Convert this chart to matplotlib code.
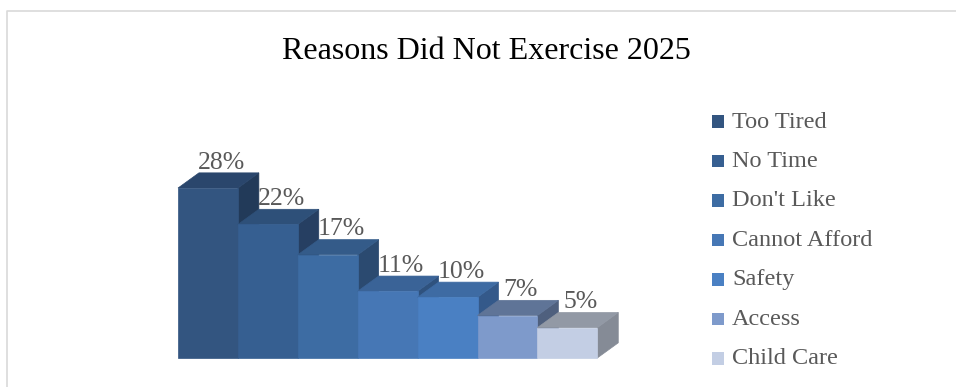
"""3D-style stepped bar chart of reasons for not exercising."""

import matplotlib

matplotlib.use("Agg")
from matplotlib import pyplot
from matplotlib.patches import Polygon, Rectangle

reasons = ["Too Tired", "No Time", "Don't Like", "Cannot Afford", "Safety", "Access", "Child Care"]
percents = [28, 22, 17, 11, 10, 7, 5]

front_colors = ["#335580", "#365F91", "#3D6CA3", "#4677B5", "#4A80C3", "#7E9ACB", "#C3CEE4"]
top_colors = ["#2A466C", "#2E5079", "#345B89", "#3A6397", "#3E6BA3", "#5F7497", "#9299A5"]
side_colors = ["#223A59", "#263F62", "#2B4A70", "#2F527E", "#34598A", "#4F607E", "#858B96"]

TEXT_COLOR = "#595959"
FONT = ["Liberation Serif", "DejaVu Serif"]

# depth of the extruded faces, in bar widths and percent points
DEPTH_X = 0.35
DEPTH_Y = 2.5

W, H, DPI = 956, 387, 100


def px_box(left, bottom, width, height):
    return [left / W, bottom / H, width / W, height / H]


fig = pyplot.figure(figsize=(W / DPI, H / DPI), dpi=DPI)

# light frame around the chart area
frame = fig.add_axes([0, 0, 1, 1])
frame.set_axis_off()
frame.set_xlim(0, W)
frame.set_ylim(H, 0)
frame.plot([7.5, 7.5, W + 5], [H + 5, 10.5, 10.5], color="#D9D9D9", linewidth=1.2)

fig.text(
    486 / W, 1 - 59 / H, "Reasons Did Not Exercise 2025",
    ha="center", va="baseline", fontsize=23, family=FONT, color="black",
)

ymax = 33
px_per_unit = 6.07
bar_px = 59.9
xmax = len(percents) + DEPTH_X
ax = fig.add_axes(px_box(178, H - 358, xmax * bar_px, ymax * px_per_unit))
ax.set_xlim(0, xmax)
ax.set_ylim(0, ymax)
ax.set_axis_off()

for i, (value, fc, tc, sc) in enumerate(zip(percents, front_colors, top_colors, side_colors)):
    x0, x1 = i, i + 1
    ax.add_patch(Polygon(
        [(x1, 0), (x1 + DEPTH_X, DEPTH_Y), (x1 + DEPTH_X, value + DEPTH_Y), (x1, value)],
        facecolor=sc, edgecolor=sc, linewidth=0.5, clip_on=False,
    ))
    ax.add_patch(Polygon(
        [(x0, value), (x0 + DEPTH_X, value + DEPTH_Y), (x1 + DEPTH_X, value + DEPTH_Y), (x1, value)],
        facecolor=tc, edgecolor=tc, linewidth=0.5, clip_on=False,
    ))
    ax.add_patch(Rectangle(
        (x0, 0), 1, value, facecolor=fc, edgecolor=fc, linewidth=0.5, clip_on=False,
    ))
    ax.text(
        x0 + 0.5 + DEPTH_X / 2 + 0.05, value + DEPTH_Y + 0.7, f"{value}%",
        ha="center", va="baseline", fontsize=18.5, family=FONT, color=TEXT_COLOR, clip_on=False,
    )

# legend drawn as square swatches with labels
legend_top = 121
legend_step = 39.5
for i, (name, fc) in enumerate(zip(reasons, front_colors)):
    yc = legend_top + i * legend_step
    frame.add_patch(Rectangle((712, yc - 6), 12.5, 12.5, facecolor=fc, edgecolor="none"))
    frame.text(732, yc + 1, name, ha="left", va="center", fontsize=17.5, family=FONT, color=TEXT_COLOR)

fig.savefig("out.png", dpi=DPI)
